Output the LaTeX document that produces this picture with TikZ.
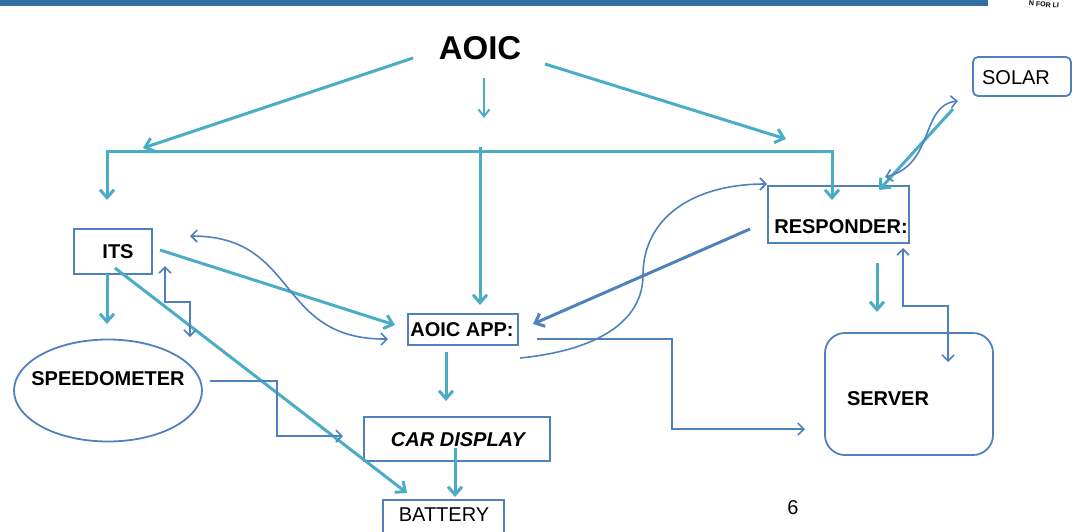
\documentclass[tikz,border=0pt]{standalone}
\usepackage{fontspec}
\setmainfont{Liberation Sans}
\usetikzlibrary{arrows.meta,shapes.geometric}
\definecolor{tealc}{HTML}{4BACC6}
\definecolor{bluec}{HTML}{4F81BD}
\definecolor{barc}{HTML}{2F6FA2}
\begin{document}
\begin{tikzpicture}[x=1pt,y=-1pt,line join=miter,
  tl/.style={draw=tealc,line width=3pt,-{Straight Barb[length=8pt,width=14pt]}},
  tlboth/.style={draw=tealc,line width=3pt,{Straight Barb[length=8pt,width=14pt]}-{Straight Barb[length=8pt,width=14pt]}},
  bl/.style={draw=bluec,line width=1.6pt,-{Straight Barb[length=6pt,width=12pt]}},
  blboth/.style={draw=bluec,line width=1.6pt,{Straight Barb[length=6pt,width=12pt]}-{Straight Barb[length=6pt,width=12pt]}},
  box/.style={draw=bluec,line width=1.8pt,inner sep=0pt},
  lbl/.style={font=\fontsize{20pt}{24pt}\selectfont\bfseries,inner sep=0pt,text=black},
  lblr/.style={font=\fontsize{20pt}{24pt}\selectfont,inner sep=0pt,text=black},
  logo/.style={font=\fontsize{7pt}{7pt}\selectfont\bfseries,inner sep=0pt,text=black}
]
\useasboundingbox (0,0) rectangle (1080,531);
\clip (0,0) rectangle (1080,531);
% top bar and logo fragment
\fill[barc] (0,0) rectangle (988,6);
\node[logo,rotate=-4] (lg) at (1044,4.5) {N FOR LI};
% boxes
\node[box,minimum width=78pt,minimum height=45pt] (its) at (113,251.5) {};
\node[lbl] (itsl) at (118,252) {ITS};
\node[box,minimum width=141pt,minimum height=57pt] (resp) at (838.5,214.5) {};
\node[lbl] (respl) at (841,227) {RESPONDER:};
\node[box,rounded corners=5pt,minimum width=98pt,minimum height=39pt] (solar) at (1022,76.5) {};
\node[lblr] (solarl) at (1016,78) {SOLAR};
\node[box,minimum width=110pt,minimum height=31pt] (app) at (463,329.5) {};
\node[lbl] (appl) at (462,330) {AOIC APP:};
\node[box,ellipse,minimum width=188pt,minimum height=102pt] (speed) at (108,390.5) {};
\node[lbl] (speedl) at (108,379) {SPEEDOMETER};
\node[box,minimum width=186pt,minimum height=44pt] (car) at (457,439) {};
\node[lbl,font=\fontsize{20pt}{24pt}\selectfont\bfseries\itshape] (carl) at (458,440) {CAR DISPLAY};
\node[box,minimum width=121pt,minimum height=45pt] (bat) at (443.5,522.5) {};
\node[lblr] (batl) at (444,515) {BATTERY};
\node[box,rounded corners=20pt,minimum width=168pt,minimum height=122pt] (server) at (909,394) {};
\node[lbl] (serverl) at (888,399) {SERVER};
\node[lbl,font=\fontsize{33pt}{36pt}\selectfont\bfseries] (aoic) at (480,48) {AOIC};
\node[lblr] (pg) at (793,508) {6};
% coordinates
\coordinate (a1) at (413,58); \coordinate (a2) at (143,148);
\coordinate (m1) at (484,78); \coordinate (m2) at (484,118);
\coordinate (r1) at (545,64); \coordinate (r2) at (786,139);
\coordinate (h1) at (107,200); \coordinate (h2) at (107,151);
\coordinate (h3) at (832,151); \coordinate (h4) at (832,200);
\coordinate (c1) at (480,147); \coordinate (c2) at (480,305);
\coordinate (i1) at (160,250); \coordinate (i2) at (395,325);
\coordinate (d1) at (107,274); \coordinate (d2) at (107,324);
\coordinate (b1) at (115,268); \coordinate (b2) at (407,493);
\coordinate (p1) at (446,352); \coordinate (p2) at (446,401);
\coordinate (q1) at (455,448); \coordinate (q2) at (455,497);
\coordinate (s1) at (877,263); \coordinate (s2) at (877,312);
\coordinate (o1) at (953,109); \coordinate (o2) at (879,190);
\coordinate (k1) at (190,236); \coordinate (k2) at (388,339);
\coordinate (z1) at (165,266); \coordinate (z2) at (190,337);
\coordinate (e1) at (210,381); \coordinate (e2) at (343,436);
\coordinate (v1) at (537,339); \coordinate (v2) at (805,429);
\coordinate (w1) at (903,248); \coordinate (w2) at (948,362);
\coordinate (x1) at (750,229); \coordinate (x2) at (533,324);
\coordinate (y1) at (520,358); \coordinate (ym) at (643,275); \coordinate (y2) at (767,184);
\coordinate (u1) at (958,101); \coordinate (u2) at (885,177);
% teal connectors
\draw[tl] (a1) -- (a2);
\draw[draw=tealc,line width=2pt,-{Straight Barb[length=7pt,width=11pt]}] (m1) -- (m2);
\draw[tl] (r1) -- (r2);
\draw[tlboth] (h1) -- (h2) -- (h3) -- (h4);
\draw[tl] (c1) -- (c2);
\draw[tl] (i1) -- (i2);
\draw[tl] (d1) -- (d2);
\draw[tl] (b1) -- (b2);
\draw[tl] (p1) -- (p2);
\draw[tl] (q1) -- (q2);
\draw[tl] (s1) -- (s2);
\draw[tl] (o1) -- (o2);
% blue connectors
\draw[blboth] (k1) .. controls (300,236) and (275,340) .. (k2);
\draw[blboth] (z1) |- (177.5,302) -| (z2);
\draw[bl] (e1) -| (277,408) |- (e2);
\draw[bl] (v1) -| (672,384) |- (v2);
\draw[blboth] (w1) |- (925,306) -| (w2);
\draw[draw=bluec,line width=3pt,-{Straight Barb[length=8pt,width=14pt]}] (x1) -- (x2);
\draw[bl] (y1) .. controls (600,350) and (643,320) .. (ym) .. controls (643,220) and (690,184) .. (y2);
\draw[blboth] (u1) .. controls (920,105) and (935,165) .. (u2);
\end{tikzpicture}
\end{document}
